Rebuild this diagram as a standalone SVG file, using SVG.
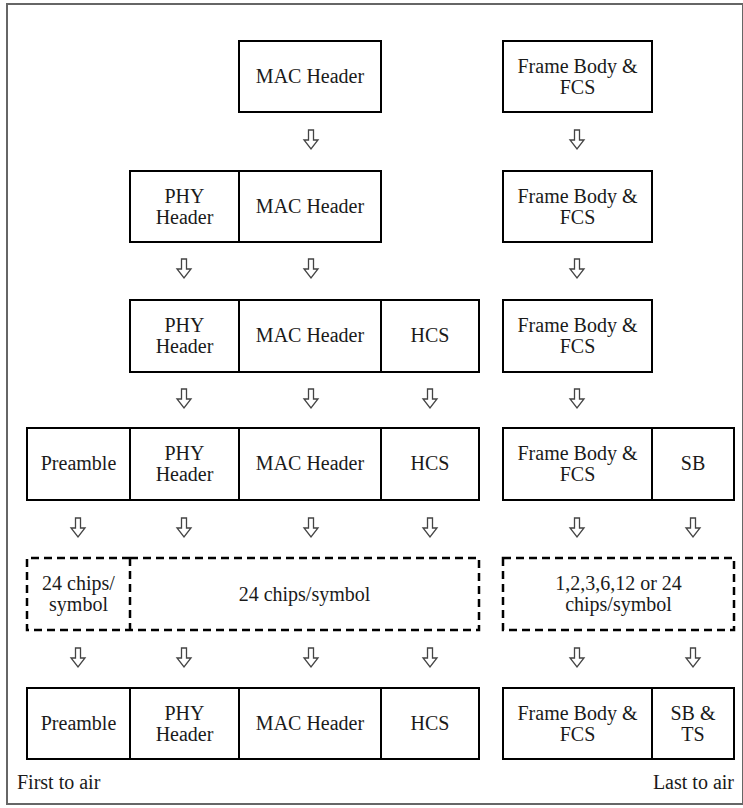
<svg xmlns="http://www.w3.org/2000/svg" width="743" height="808" viewBox="0 0 743 808">
<defs>
<style>
.b{fill:#fff;stroke:#000;stroke-width:2}
.d{fill:none;stroke:#000;stroke-width:2.5;stroke-dasharray:8 5}
.t{font-family:'Liberation Serif','Times New Roman','DejaVu Serif',serif;font-size:20px;fill:#1a1a1a;text-anchor:middle}
.l{font-family:'Liberation Serif','Times New Roman','DejaVu Serif',serif;font-size:20px;fill:#1a1a1a}
.a{fill:#fff;stroke:#444;stroke-width:1.3;stroke-linejoin:miter}
</style>
<path id="arr" d="M-2.5,0 H2.5 V10 H7 L0,19 L-7,10 H-2.5 Z"/>
</defs>
<rect x="0" y="0" width="743" height="808" fill="#fff"/>
<rect x="7" y="4" width="736" height="800" fill="none" stroke="#666" stroke-width="2"/>

<g font-family="Liberation Serif, Times New Roman, serif">
<g id="row1">
  <g id="r1-mac"><rect class="b" x="239" y="41" width="142" height="71"/><text class="t" x="310" y="83">MAC Header</text></g>
  <g id="r1-fb"><rect class="b" x="503" y="41" width="149" height="71"/><text class="t" x="577.5" y="73">Frame Body &amp;</text><text class="t" x="577.5" y="94">FCS</text></g>
</g>
<g id="row2">
  <g id="r2-phy"><rect class="b" x="130" y="171" width="109" height="71"/><text class="t" x="184.5" y="203">PHY</text><text class="t" x="184.5" y="224">Header</text></g>
  <g id="r2-mac"><rect class="b" x="239" y="171" width="142" height="71"/><text class="t" x="310" y="213">MAC Header</text></g>
  <g id="r2-fb"><rect class="b" x="503" y="171" width="149" height="71"/><text class="t" x="577.5" y="203">Frame Body &amp;</text><text class="t" x="577.5" y="224">FCS</text></g>
</g>
<g id="row3">
  <g id="r3-phy"><rect class="b" x="130" y="300" width="109" height="72"/><text class="t" x="184.5" y="332">PHY</text><text class="t" x="184.5" y="353">Header</text></g>
  <g id="r3-mac"><rect class="b" x="239" y="300" width="142" height="72"/><text class="t" x="310" y="342">MAC Header</text></g>
  <g id="r3-hcs"><rect class="b" x="381" y="300" width="98" height="72"/><text class="t" x="430" y="342">HCS</text></g>
  <g id="r3-fb"><rect class="b" x="503" y="300" width="149" height="72"/><text class="t" x="577.5" y="332">Frame Body &amp;</text><text class="t" x="577.5" y="353">FCS</text></g>
</g>
<g id="row4">
  <g id="r4-pre"><rect class="b" x="27" y="428" width="103" height="72"/><text class="t" x="78.5" y="470">Preamble</text></g>
  <g id="r4-phy"><rect class="b" x="130" y="428" width="109" height="72"/><text class="t" x="184.5" y="460">PHY</text><text class="t" x="184.5" y="481">Header</text></g>
  <g id="r4-mac"><rect class="b" x="239" y="428" width="142" height="72"/><text class="t" x="310" y="470">MAC Header</text></g>
  <g id="r4-hcs"><rect class="b" x="381" y="428" width="98" height="72"/><text class="t" x="430" y="470">HCS</text></g>
  <g id="r4-fb"><rect class="b" x="503" y="428" width="149" height="72"/><text class="t" x="577.5" y="460">Frame Body &amp;</text><text class="t" x="577.5" y="481">FCS</text></g>
  <g id="r4-sb"><rect class="b" x="652" y="428" width="82" height="72"/><text class="t" x="693" y="470">SB</text></g>
</g>
<g id="row5">
  <g id="r5-pre"><path class="d" d="M130,558 H27 V630 H130"/><line class="d" x1="130" y1="558" x2="130" y2="630"/><text class="t" x="78.5" y="590">24 chips/</text><text class="t" x="78.5" y="611">symbol</text></g>
  <g id="r5-main"><path class="d" d="M130,558 H479 V630 H130"/><text class="t" x="304.5" y="601">24 chips/symbol</text></g>
  <g id="r5-right"><rect class="d" x="503" y="558" width="231" height="72"/><text class="t" x="618.5" y="590">1,2,3,6,12 or 24</text><text class="t" x="618.5" y="611">chips/symbol</text></g>
</g>
<g id="row6">
  <g id="r6-pre"><rect class="b" x="27" y="688" width="103" height="71"/><text class="t" x="78.5" y="730">Preamble</text></g>
  <g id="r6-phy"><rect class="b" x="130" y="688" width="109" height="71"/><text class="t" x="184.5" y="720">PHY</text><text class="t" x="184.5" y="741">Header</text></g>
  <g id="r6-mac"><rect class="b" x="239" y="688" width="142" height="71"/><text class="t" x="310" y="730">MAC Header</text></g>
  <g id="r6-hcs"><rect class="b" x="381" y="688" width="98" height="71"/><text class="t" x="430" y="730">HCS</text></g>
  <g id="r6-fb"><rect class="b" x="503" y="688" width="149" height="71"/><text class="t" x="577.5" y="720">Frame Body &amp;</text><text class="t" x="577.5" y="741">FCS</text></g>
  <g id="r6-sb"><rect class="b" x="652" y="688" width="82" height="71"/><text class="t" x="693" y="720">SB &amp;</text><text class="t" x="693" y="741">TS</text></g>
</g>
<g id="labels">
  <text class="l" x="17" y="789">First to air</text>
  <text class="l" x="734" y="789" text-anchor="end">Last to air</text>
</g>
</g>
<g id="connectors">
  <use href="#arr" class="a" x="311" y="130"/>
  <use href="#arr" class="a" x="577" y="130"/>
  <use href="#arr" class="a" x="184" y="259"/>
  <use href="#arr" class="a" x="311" y="259"/>
  <use href="#arr" class="a" x="577" y="259"/>
  <use href="#arr" class="a" x="184" y="389"/>
  <use href="#arr" class="a" x="311" y="389"/>
  <use href="#arr" class="a" x="430" y="389"/>
  <use href="#arr" class="a" x="577" y="389"/>
  <use href="#arr" class="a" x="78" y="518"/>
  <use href="#arr" class="a" x="184" y="518"/>
  <use href="#arr" class="a" x="311" y="518"/>
  <use href="#arr" class="a" x="430" y="518"/>
  <use href="#arr" class="a" x="577" y="518"/>
  <use href="#arr" class="a" x="693" y="518"/>
  <use href="#arr" class="a" x="78" y="648"/>
  <use href="#arr" class="a" x="184" y="648"/>
  <use href="#arr" class="a" x="311" y="648"/>
  <use href="#arr" class="a" x="430" y="648"/>
  <use href="#arr" class="a" x="577" y="648"/>
  <use href="#arr" class="a" x="693" y="648"/>
</g>
</svg>
